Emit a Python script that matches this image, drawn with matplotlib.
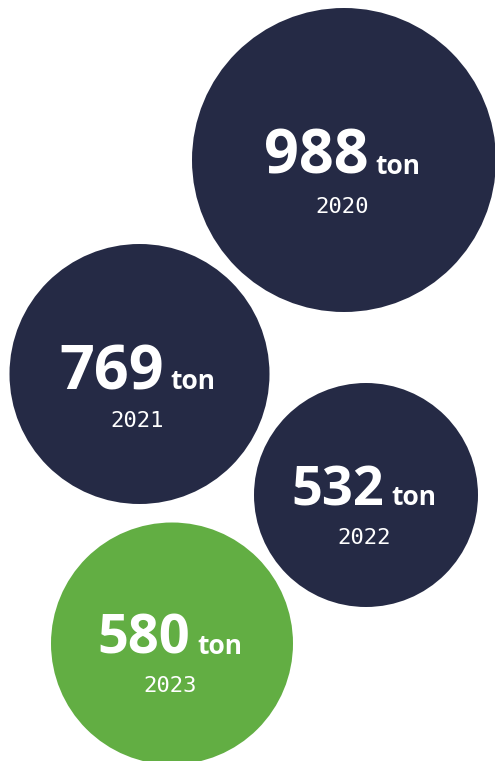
import matplotlib
matplotlib.use('Agg')
import matplotlib.pyplot as plt
from matplotlib.patches import Circle

# data
years = ['2020', '2021', '2022', '2023']
values = [988, 769, 532, 580]
unit = 'ton'

# layout (pixels, y down)
centers = [(344, 160), (139.5, 374), (366, 495), (172, 643.5)]
radii = [152, 130, 112, 121]
num_sizes = [44, 44, 39, 39]
base_off = [14, 15, 10, 10]
year_off = [53, 53, 49, 48]
colors = ['#252a45', '#252a45', '#252a45', '#62ae43']

W, H = 495, 761
fig = plt.figure(figsize=(W / 100, H / 100), dpi=100)
ax = fig.add_axes([0, 0, 1, 1])
ax.set_xlim(0, W)
ax.set_ylim(H, 0)
ax.set_aspect('equal')
ax.axis('off')

fig.canvas.draw()
renderer = fig.canvas.get_renderer()

for i in range(len(values)):
    cx, cy = centers[i]
    ax.add_patch(Circle((cx, cy), radii[i], color=colors[i], lw=0))

    # Zahl + Einheit, als Gruppe zentriert
    t1 = ax.text(0, cy + base_off[i], str(values[i]), color='white',
                 fontsize=num_sizes[i], fontweight='bold', family='Open Sans',
                 ha='left', va='baseline')
    t2 = ax.text(0, cy + base_off[i], unit, color='white', fontsize=19,
                 fontweight='bold', family='Open Sans', ha='left', va='baseline')
    w1 = t1.get_window_extent(renderer).width
    w2 = t2.get_window_extent(renderer).width
    gap = 7
    total = w1 + gap + w2
    x0 = cx - 2 - total / 2
    t1.set_x(x0)
    t2.set_x(x0 + w1 + gap)

    ax.text(cx - 2, cy + year_off[i], years[i], color='white', fontsize=16,
            family='DejaVu Sans Mono', ha='center', va='baseline')

fig.savefig('out.png', dpi=100, facecolor='white')
